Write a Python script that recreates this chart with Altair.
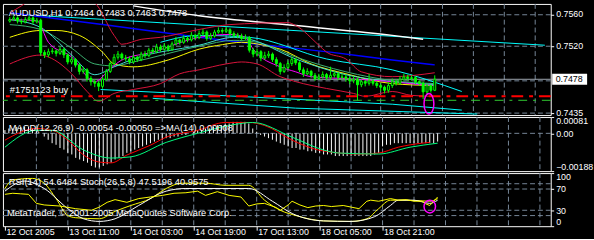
import altair as alt
import pandas as pd

FONT = "Liberation Sans"
GRID = "#778899"
LIME = "#00FF00"

# ---------------- data ----------------
bar_index = list(range(111))
first_open = 0.7552
closes = [0.7554,0.7556,0.7552,0.7551,0.7554,0.7556,0.7551,0.7553,0.7512,0.7509,
          0.7513,0.7514,0.7511,0.7516,0.7509,0.7500,0.7503,0.7496,0.7488,0.7490,
          0.7479,0.7475,0.7473,0.7469,0.7478,0.7488,0.7498,0.7506,0.7510,0.7505,
          0.7504,0.7500,0.7506,0.7503,0.7510,0.7508,0.7515,0.7513,0.7519,0.7516,
          0.7520,0.7516,0.7523,0.7528,0.7525,0.7530,0.7528,0.7534,0.7531,0.7536,
          0.7538,0.7530,0.7533,0.7538,0.7540,0.7539,0.7541,0.7536,0.7534,0.7533,
          0.7530,0.7531,0.7515,0.7510,0.7513,0.7505,0.7508,0.7510,0.7503,0.7498,
          0.7488,0.7493,0.7498,0.7503,0.7499,0.7490,0.7485,0.7488,0.7483,0.7479,
          0.7481,0.7484,0.7480,0.7483,0.7485,0.7480,0.7481,0.7479,0.7476,0.7478,
          0.7471,0.7475,0.7473,0.7476,0.7473,0.7470,0.7468,0.7464,0.7470,0.7475,
          0.7473,0.7478,0.7481,0.7479,0.7480,0.7475,0.7473,0.7462,0.7470,0.7464,
          0.7478]
highs = [0.7557,0.7559,0.7558,0.7555,0.7557,0.7560,0.7558,0.7556,0.7555,0.7515,
         0.7517,0.7518,0.7516,0.7520,0.7518,0.7511,0.7507,0.7505,0.7498,0.7494,
         0.7492,0.7482,0.7478,0.7476,0.7481,0.7491,0.7501,0.7510,0.7514,0.7512,
         0.7509,0.7507,0.7509,0.7508,0.7513,0.7514,0.7518,0.7518,0.7523,0.7522,
         0.7524,0.7522,0.7526,0.7532,0.7530,0.7534,0.7533,0.7538,0.7536,0.7540,
         0.7542,0.7540,0.7537,0.7541,0.7544,0.7543,0.7545,0.7543,0.7539,0.7537,
         0.7536,0.7535,0.7533,0.7518,0.7517,0.7515,0.7513,0.7514,0.7512,0.7506,
         0.7500,0.7497,0.7502,0.7507,0.7505,0.7501,0.7493,0.7492,0.7490,0.7486,
         0.7485,0.7488,0.7486,0.7494,0.7489,0.7487,0.7485,0.7484,0.7482,0.7482,
         0.7480,0.7478,0.7477,0.7485,0.7478,0.7476,0.7473,0.7470,0.7474,0.7479,
         0.7478,0.7482,0.7485,0.7484,0.7483,0.7482,0.7477,0.7475,0.7472,0.7471,
         0.7483]
lows = [0.7550,0.7552,0.7549,0.7548,0.7549,0.7552,0.7548,0.7549,0.7508,0.7505,
        0.7506,0.7510,0.7507,0.7509,0.7505,0.7497,0.7497,0.7493,0.7484,0.7485,
        0.7475,0.7470,0.7468,0.7463,0.7466,0.7476,0.7486,0.7496,0.7503,0.7502,
        0.7501,0.7497,0.7498,0.7500,0.7501,0.7505,0.7506,0.7510,0.7511,0.7513,
        0.7514,0.7513,0.7514,0.7521,0.7522,0.7523,0.7525,0.7526,0.7528,0.7529,
        0.7533,0.7527,0.7528,0.7531,0.7536,0.7536,0.7537,0.7533,0.7531,0.7530,
        0.7527,0.7528,0.7512,0.7506,0.7507,0.7501,0.7503,0.7505,0.7500,0.7494,
        0.7484,0.7486,0.7490,0.7495,0.7496,0.7487,0.7481,0.7483,0.7480,0.7476,
        0.7477,0.7479,0.7477,0.7478,0.7480,0.7477,0.7477,0.7475,0.7472,0.7473,
        0.7451,0.7468,0.7469,0.7470,0.7470,0.7467,0.7463,0.7460,0.7461,0.7467,
        0.7470,0.7471,0.7476,0.7476,0.7476,0.7472,0.7470,0.7453,0.7459,0.7461,
        0.7463]
opens = [first_open] + closes[:-1]   # each bar opens at the previous close

# moving averages / bands (bar index, price)
ma_yellow_i = [0, 8, 12, 18, 24, 27, 32, 41, 49, 55, 60, 66, 70, 78, 87, 99, 110]
ma_yellow_v = [0.75313, 0.7540, 0.7540, 0.75338, 0.75125, 0.74975, 0.74938, 0.75025, 0.75163,
               0.7522, 0.7525, 0.7521, 0.75163, 0.74975, 0.7485, 0.74725, 0.7470]
ma_green_i = [0, 8, 16, 22, 27, 32, 49, 58, 64, 74, 87, 99, 110]
ma_green_v = [0.75475, 0.75413, 0.75175, 0.74975, 0.7495, 0.7500, 0.7520, 0.75275, 0.7525,
              0.75063, 0.74875, 0.74763, 0.74725]
ma_turq_i = [0, 8, 16, 22, 27, 32, 49, 58, 62, 74, 87, 99, 110]
ma_turq_v = [0.75538, 0.75438, 0.75088, 0.74838, 0.74938, 0.75038, 0.75213, 0.75313, 0.75288,
             0.75038, 0.74838, 0.7475, 0.74713]
ma_magenta_i = [0, 7, 10, 16, 22, 26, 29, 37, 49, 57, 61, 63, 70, 74, 78, 87, 99, 106, 110]
ma_magenta_v = [0.75538, 0.75525, 0.7525, 0.75063, 0.7475, 0.74913, 0.75025, 0.75125, 0.75313,
                0.7535, 0.75313, 0.75163, 0.74938, 0.74875, 0.74813, 0.74788, 0.7475, 0.74713, 0.7470]
ma_blue_i = [0, 26, 49, 64, 83, 99, 110]
ma_blue_v = [0.75625, 0.75463, 0.75313, 0.75225, 0.75125, 0.75025, 0.74963]
ma_white_i = [32, 49, 74, 99, 107]
ma_white_v = [0.75713, 0.75588, 0.75463, 0.75338, 0.75288]
ma_shift_i = [39, 49, 62, 82, 99, 117]
ma_shift_v = [0.7525, 0.75338, 0.75313, 0.75038, 0.7490, 0.74625]
bb_upper_i = [0, 3, 6, 14, 22, 27, 29, 34, 39, 49, 57, 72, 74, 80, 82, 87, 91, 99, 110]
bb_upper_v = [0.75625, 0.75713, 0.75813, 0.7590, 0.7575, 0.75338, 0.75225, 0.75288, 0.75313,
              0.75413, 0.75475, 0.7550, 0.75463, 0.75213, 0.75125, 0.75038, 0.74875, 0.74813, 0.74863]
bb_lower_i = [0, 8, 10, 16, 20, 23, 27, 32, 39, 44, 49, 56, 60, 64, 70, 74, 82, 89, 92, 99, 104, 110]
bb_lower_v = [0.74975, 0.75088, 0.75063, 0.7485, 0.74625, 0.7450, 0.7460, 0.7465, 0.74725, 0.7485,
              0.7490, 0.74975, 0.7500, 0.74975, 0.74813, 0.7475, 0.74663, 0.7460, 0.74563, 0.74625,
              0.74575, 0.74563]
trend_top_i = [8, 138.5]
trend_top_v = [0.75588, 0.75213]
trend_low1_i = [23.5, 49, 99, 117]
trend_low1_v = [0.7465, 0.74588, 0.74463, 0.74388]
trend_low2_i = [37, 74, 121]
trend_low2_v = [0.74538, 0.74413, 0.74338]

order_price = 0.74563
stop_price = 0.74513
bid_price = 0.7478
price_grid = [0.7560, 0.7520, 0.7476, 0.7435]
price_ticks = [0.7560, 0.7520, 0.7435]
mark_main = (108.5, 0.74469)

# MACD panel
macd_hist = [0.00016,0.00024,0.00024,0.00032,0.00032,0.00032,0.00032,0.00024,0.00016,0.0,
             -0.00016,-0.00032,-0.00049,-0.00057,-0.00073,-0.00081,-0.00097,-0.00105,-0.00122,-0.0013,
             -0.00138,-0.00146,-0.00162,-0.0017,-0.0017,-0.00162,-0.00154,-0.00146,-0.0013,-0.00122,
             -0.00113,-0.00097,-0.00089,-0.00081,-0.00073,-0.00065,-0.00057,-0.00049,-0.00041,-0.00032,
             -0.00032,-0.00024,-0.00024,-0.00016,-0.00016,-0.00008,-0.00008,0.0,0.00008,0.00016,
             0.00016,0.00024,0.00024,0.00032,0.00041,0.00041,0.00049,0.00049,0.00057,0.00057,
             0.00057,0.00057,0.00049,0.00024,0.00008,-0.00008,-0.00016,-0.00024,-0.00032,-0.00041,
             -0.00049,-0.00057,-0.00065,-0.00073,-0.00073,-0.00081,-0.00081,-0.00089,-0.00089,-0.00097,
             -0.00097,-0.00105,-0.00105,-0.00105,-0.00113,-0.00113,-0.00113,-0.00113,-0.00113,-0.00113,
             -0.00113,-0.00113,-0.00113,-0.00113,-0.00105,-0.00097,-0.00065,-0.00057,-0.00057,-0.00049,
             -0.00049,-0.00049,-0.00049,-0.00049,-0.00049,-0.00049,-0.00049,-0.00049,-0.00049,-0.00049,
             -0.00041]
macd_red_i = [0, 8, 12, 16, 20, 24, 27, 31, 37, 41, 49, 56, 62, 66, 73, 78, 85, 90, 95, 100, 106, 108]
macd_red_v = [-0.00034, 0.00024, 0.00015, -0.00034, -0.00108, -0.00143, -0.00147, -0.00108, -0.00059,
              -0.00019, 0.00015, 0.00054, 0.00054, 0.00039, -0.00034, -0.00074, -0.00098, -0.00103,
              -0.00098, -0.00069, -0.00049, -0.00045]
macd_green_i = [0, 8, 12, 20, 27, 32, 41, 49, 57, 63, 73, 81, 85, 95, 103, 110]
macd_green_v = [-0.00069, 0.00015, 0.00015, -0.00083, -0.00123, -0.00117, -0.00045, 0.0, 0.00039,
                0.00054, -0.00019, -0.00083, -0.00098, -0.00103, -0.00069, -0.00049]
macd_range = [-0.00188, 0.00081]
macd_ticks = [0.00081, 0.0, -0.00188]

# RSI / Stochastic panel
rsi_i = [0, 2, 4, 6, 8, 10, 14, 18, 22, 24, 26, 28, 31, 34, 37, 40, 43, 46, 49, 51, 54, 57, 60, 62, 64,
         66, 69, 70, 72, 73, 75, 77, 79, 81, 83, 86, 88, 90, 92, 93, 95, 98, 100, 102, 104, 106, 107,
         108, 109, 110]
rsi_v = [60, 62, 61, 60, 43, 40, 38, 33, 30, 36, 45, 50, 45, 52, 55, 58, 62, 63, 66, 58, 65, 58, 55, 38,
         42, 43, 35, 30, 40, 47, 40, 35, 38, 39, 37, 39, 36, 33, 47, 49, 47, 52, 49, 50, 47, 47, 42, 39,
         47, 55]
stoch_main_i = [0, 5, 10, 16, 20, 24, 28, 34, 41, 46, 58, 62, 68, 73, 81, 88, 94, 98, 100, 104, 108, 110]
stoch_main_v = [66, 85, 71, 33, 14, 9, 14, 39, 66, 71, 71, 71, 47, 24, 10, 9, 18, 39, 49, 49, 43, 49]
stoch_sig_i = [0, 2, 7, 10, 13, 16, 18, 24, 28, 32, 37, 41, 45, 51, 56, 62, 66, 70, 74, 81, 88, 92, 95,
               98, 102, 108, 110]
stoch_sig_v = [71, 87, 90, 81, 52, 20, 16, 14, 28, 39, 52, 71, 81, 81, 77, 77, 49, 30, 20, 10, 9, 14, 33,
               49, 49, 47, 52]
rsi_grid = [80, 70, 30, 20]
rsi_ticks = [100, 70, 30, 0]
mark_rsi = (108, 37)

# time axis
date_tick_bars = [0, 16, 32, 48, 64, 80, 96]
date_tick_labels = ["12 Oct 2005", "13 Oct 11:00", "14 Oct 03:00", "14 Oct 19:00",
                    "17 Oct 13:00", "18 Oct 05:00", "18 Oct 21:00"]
grid_bars = list(range(8, 137, 8))

title_main = "AUDUSD,H1  0.7464 0.7483 0.7463 0.7478"
order_label = "#1751123 buy"
title_macd = "MACD(12,26,9) -0.00054 -0.00050  =>MA(14) 0.00008"
title_rsi = "RSI(14) 54.6484  Stoch(26,5,8) 47.5196  40.9575"
copyright_text = "MetaTrader, \u00a9 2001-2005 MetaQuotes Software Corp."

# ---------------- chart ----------------
W = 557
XS = alt.Scale(domain=[-0.5, 138.75], nice=False, zero=False)


def yaxis(values, label_expr=None, fmt=None, flush=False, offset=0):
    kw = dict(orient="right", values=values, grid=False, ticks=True, tickSize=3, tickColor="white",
              labelColor="white", labelFont=FONT, labelFontSize=9, labelPadding=2, domain=False,
              title=None, labelFlush=flush, labelOffset=offset)
    if label_expr:
        kw["labelExpr"] = label_expr
    if fmt:
        kw["format"] = fmt
    return alt.Axis(**kw)


label_expr = "[" + ",".join(f"'{s}'" for s in date_tick_labels) + "][indexof(" + \
    "[" + ",".join(str(b) for b in date_tick_bars) + "], datum.value)]"
X_AXIS = alt.Axis(values=date_tick_bars, labelExpr=label_expr, grid=False, ticks=True, tickSize=4,
                  tickColor="white", labelColor="white", labelFont=FONT, labelFontSize=9,
                  labelAlign="left", labelBaseline="top", labelPadding=-3, labelOffset=1,
                  domain=False, title=None, labelFlush=False, labelOverlap=False)

PANELS = {
    "main": dict(scale=alt.Scale(domain=[0.74325, 0.757375], nice=False, zero=False),
                 yaxis=yaxis(price_ticks, fmt=".4f", offset=-1), xaxis=None),
    "macd": dict(scale=alt.Scale(domain=macd_range, nice=False, zero=False),
                 yaxis=yaxis(macd_ticks, flush=True,
                             label_expr="datum.value == 0 ? '0.00' : format(datum.value, '.5f')"),
                 xaxis=None),
    "rsi": dict(scale=alt.Scale(domain=[0, 100], nice=False, zero=False),
                yaxis=yaxis(rsi_ticks, flush=True), xaxis=X_AXIS),
}


def X(p, field="i"):
    return alt.X(f"{field}:Q", scale=XS, axis=PANELS[p]["xaxis"])


def Y(p, field="v"):
    return alt.Y(f"{field}:Q", scale=PANELS[p]["scale"], axis=PANELS[p]["yaxis"])


def line(p, xs, ys, color, width=1.0, dash=None, interp="linear"):
    d = pd.DataFrame({"i": xs, "v": ys})
    kw = dict(color=color, strokeWidth=width, clip=True, interpolate=interp)
    if dash:
        kw["strokeDash"] = dash
    return alt.Chart(d).mark_line(**kw).encode(x=X(p), y=Y(p))


def hgrid(p, vals):
    d = pd.DataFrame({"v": vals})
    return alt.Chart(d).mark_rule(color=GRID, strokeDash=[5, 3], strokeWidth=1).encode(y=Y(p))


def vgrid(p):
    d = pd.DataFrame({"i": grid_bars})
    return alt.Chart(d).mark_rule(color=GRID, strokeDash=[5, 3], strokeWidth=1).encode(x=X(p))


def label(txt, x, y, color="white", size=9.5):
    d = pd.DataFrame({"t": [txt]})
    return alt.Chart(d).mark_text(align="left", baseline="middle", font=FONT, fontSize=size,
                                  color=color).encode(text="t:N", x=alt.value(x), y=alt.value(y))


def ellipse(p, ix, v, rx, size):
    d = pd.DataFrame({"i": [ix], "v": [v]})
    path = f"M -{rx} 0 A {rx} 1 0 1 0 {rx} 0 A {rx} 1 0 1 0 -{rx} 0 Z"
    return alt.Chart(d).mark_point(shape=path, size=size, filled=False, stroke="#FF00FF",
                                   strokeWidth=1.5, opacity=1).encode(x=X(p), y=Y(p))


candles = pd.DataFrame({"i": bar_index, "o": opens, "h": highs, "l": lows, "c": closes})

wicks = alt.Chart(candles).mark_rule(color=LIME, strokeWidth=1).encode(
    x=X("main"), y=Y("main", "l"), y2="h:Q")
bodies = alt.Chart(candles).mark_bar(width=2, stroke=LIME, strokeWidth=1).encode(
    x=X("main"), y=Y("main", "o"), y2="c:Q",
    fill=alt.condition("datum.c >= datum.o", alt.value("black"), alt.value(LIME)))

trade = pd.DataFrame({"v": [order_price], "t": [order_label]})
stop = pd.DataFrame({"v": [stop_price]})
bid = pd.DataFrame({"v": [bid_price], "t": [f"{bid_price:.4f}"]})

order_line = alt.Chart(trade).mark_rule(color="#FF0000", strokeWidth=2, strokeDash=[12, 6, 4, 6]).encode(
    y=Y("main"))
stop_line = alt.Chart(stop).mark_rule(color="#32CD32", strokeWidth=1, strokeDash=[9, 6, 3, 6]).encode(
    y=Y("main"))
bid_line = alt.Chart(bid).mark_rule(color="#A0A8B0", strokeWidth=1).encode(y=Y("main"))
order_text = alt.Chart(trade).mark_text(align="left", baseline="bottom", font=FONT, fontSize=9.5,
                                        color="white", dy=-1).encode(
    text="t:N", x=alt.value(7), y=Y("main"))
# white price tag on the right scale: a thick white rule behind the current price text
bid_box = alt.Chart(bid).mark_rule(color="white", strokeWidth=11, strokeCap="butt", clip=False).encode(
    x=alt.value(558.5), x2=alt.value(594), y=Y("main"))
bid_text = alt.Chart(bid).mark_text(align="left", baseline="middle", font=FONT, fontSize=9,
                                    color="black").encode(
    text="t:N", x=alt.value(562), y=Y("main"))

main = alt.layer(
    hgrid("main", price_grid),
    vgrid("main"),
    bid_line,
    line("main", trend_top_i, trend_top_v, "#00FFFF"),
    line("main", trend_low1_i, trend_low1_v, "#00FFFF"),
    line("main", trend_low2_i, trend_low2_v, "#00FFFF"),
    line("main", ma_white_i, ma_white_v, "white", 1.5, interp="monotone"),
    line("main", ma_blue_i, ma_blue_v, "#0000FF", 1.5, interp="monotone"),
    line("main", ma_shift_i, ma_shift_v, "#00FFFF", 1, interp="monotone"),
    line("main", bb_upper_i, bb_upper_v, "#DC143C", 1, interp="monotone"),
    line("main", bb_lower_i, bb_lower_v, "#DC143C", 1, interp="monotone"),
    line("main", ma_yellow_i, ma_yellow_v, "#FFFF00", 1, interp="monotone"),
    line("main", ma_green_i, ma_green_v, "#3CB371", 1, interp="monotone"),
    line("main", ma_turq_i, ma_turq_v, "#40E0D0", 1, interp="monotone"),
    line("main", ma_magenta_i, ma_magenta_v, "#FF00FF", 1, interp="monotone"),
    order_line,
    stop_line,
    wicks,
    bodies,
    ellipse("main", mark_main[0], mark_main[1], 0.476, 441),
    order_text,
    label(title_main, 6, 9.5),
    bid_box,
    bid_text,
).properties(width=W, height=113)

hist_df = pd.DataFrame({"i": bar_index, "h": macd_hist, "z": [0.0] * len(bar_index)})
macd = alt.layer(
    hgrid("macd", [0.0]),
    vgrid("macd"),
    alt.Chart(hist_df).mark_rule(color="white", strokeWidth=1).encode(
        x=X("macd"), y=Y("macd", "z"), y2="h:Q"),
    line("macd", macd_red_i, macd_red_v, "#FF0000", 1, interp="monotone"),
    line("macd", macd_green_i, macd_green_v, "#00FF7F", 1, interp="monotone"),
    label(title_macd, 6, 11),
).properties(width=W, height=55)

rsi = alt.layer(
    hgrid("rsi", rsi_grid),
    vgrid("rsi"),
    line("rsi", stoch_sig_i, stoch_sig_v, "#FFFF00", 1, interp="monotone"),
    line("rsi", stoch_main_i, stoch_main_v, "white", 1, interp="monotone"),
    line("rsi", rsi_i, rsi_v, "#FFFF00", 1),
    ellipse("rsi", mark_rsi[0], mark_rsi[1], 0.9, 169),
    label(title_rsi, 6, 9),
    label(copyright_text, 4, 41),
).properties(width=W, height=54)

chart = alt.vconcat(main, macd, rsi, spacing=2, bounds="flush").properties(
    padding={"left": 1, "top": 1, "right": 0, "bottom": 0}, background="black"
).configure_view(stroke="white", strokeWidth=1, fill="black")

chart.save("out.html", embed_options={"renderer": "svg", "actions": False})
